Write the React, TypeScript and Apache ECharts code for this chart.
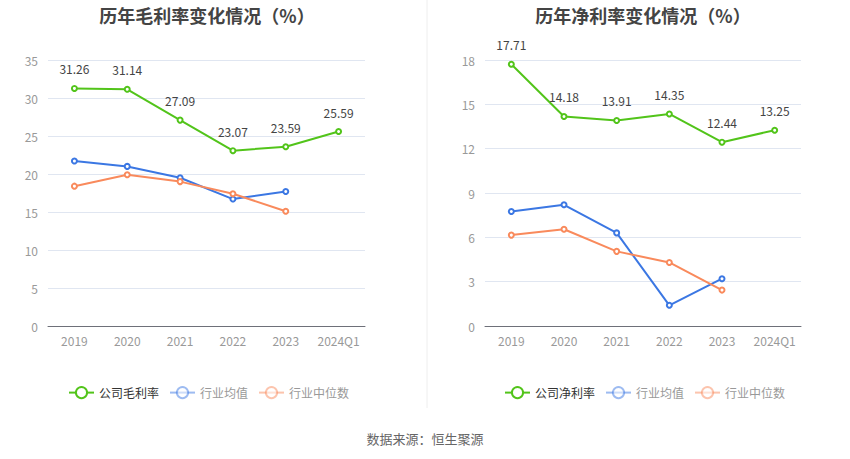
import React, { useEffect, useRef } from "react";
import * as echarts from "echarts";

const categories = ["2019", "2020", "2021", "2022", "2023", "2024Q1"];
const grossCompany = [31.26, 31.14, 27.09, 23.07, 23.59, 25.59];
const grossIndustryMean = [21.7, 21.0, 19.5, 16.7, 17.7];
const grossIndustryMedian = [18.4, 19.9, 19.0, 17.4, 15.1];
const netCompany = [17.71, 14.18, 13.91, 14.35, 12.44, 13.25];
const netIndustryMean = [7.75, 8.2, 6.3, 1.4, 3.2];
const netIndustryMedian = [6.15, 6.55, 5.05, 4.3, 2.43];

const GREEN = "#52c41a";
const BLUE = "#3b77e3";
const ORANGE = "#f98a5c";

export default function App() {
  const ref = useRef<HTMLDivElement>(null);
  useEffect(() => {
    document.body.style.margin = "0";
    const chart = echarts.init(ref.current!, undefined, { renderer: "svg" });
    const font = "'Noto Sans CJK SC', 'Noto Sans', sans-serif";
    const xAxisBase = (gi: number) => ({
      type: "category",
      gridIndex: gi,
      data: categories,
      boundaryGap: true,
      axisLine: { lineStyle: { color: "#6e7079" } },
      axisTick: { alignWithLabel: true, interval: 0, lineStyle: { color: "#6e7079" } },
      axisLabel: { color: "#999", fontSize: 12, margin: 8, interval: 0 },
    });
    const yAxisBase = (gi: number, max: number, interval: number) => ({
      type: "value",
      gridIndex: gi,
      min: 0,
      max,
      interval,
      axisLine: { show: false },
      axisTick: { show: false },
      axisLabel: { color: "#999", fontSize: 12, margin: 10 },
      splitLine: { lineStyle: { color: "#e0e6f1" } },
    });
    const lineSeries = (
      name: string,
      data: number[],
      color: string,
      idx: number,
      label: boolean
    ) => ({
      name,
      type: "line",
      xAxisIndex: idx,
      yAxisIndex: idx,
      data,
      symbol: "emptyCircle",
      symbolSize: 5,
      lineStyle: { width: 2, color },
      itemStyle: { color, borderWidth: 2 },
      label: label
        ? { show: true, position: "top", color: "#444", fontSize: 12, distance: 10 }
        : { show: false },
      z: label ? 3 : 2,
    });
    const legendItems = (first: string) => [
      { name: first, textStyle: { color: "#333" } },
      {
        name: "行业均值",
        textStyle: { color: "#999" },
        itemStyle: { opacity: 0.5 },
        lineStyle: { opacity: 0.5 },
      },
      {
        name: "行业中位数",
        textStyle: { color: "#999" },
        itemStyle: { opacity: 0.5 },
        lineStyle: { opacity: 0.5 },
      },
    ];
    chart.setOption({
      animation: false,
      textStyle: { fontFamily: font },
      title: [
        {
          text: "历年毛利率变化情况（%）",
          left: 202,
          textAlign: "center",
          top: 1,
          textStyle: { fontSize: 18, fontWeight: "bold", color: "#444", fontFamily: font },
        },
        {
          text: "历年净利率变化情况（%）",
          left: 638,
          textAlign: "center",
          top: 1,
          textStyle: { fontSize: 18, fontWeight: "bold", color: "#444", fontFamily: font },
        },
      ],
      legend: [
        {
          data: legendItems("公司毛利率"),
          left: 63,
          top: 381,
          itemWidth: 25,
          itemHeight: 14,
          itemGap: 10,
          selectedMode: false,
          textStyle: { fontSize: 12, fontFamily: font },
        },
        {
          data: legendItems("公司净利率"),
          left: 499,
          top: 381,
          itemWidth: 25,
          itemHeight: 14,
          itemGap: 10,
          selectedMode: false,
          textStyle: { fontSize: 12, fontFamily: font },
        },
      ],
      grid: [
        { left: 48, right: 485, top: 60, bottom: 133 },
        { left: 485, right: 49, top: 60, bottom: 133 },
      ],
      xAxis: [xAxisBase(0), xAxisBase(1)],
      yAxis: [yAxisBase(0, 35, 5), yAxisBase(1, 18, 3)],
      series: [
        lineSeries("公司毛利率", grossCompany, GREEN, 0, true),
        lineSeries("行业均值", grossIndustryMean, BLUE, 0, false),
        lineSeries("行业中位数", grossIndustryMedian, ORANGE, 0, false),
        lineSeries("公司净利率", netCompany, GREEN, 1, true),
        lineSeries("行业均值", netIndustryMean, BLUE, 1, false),
        lineSeries("行业中位数", netIndustryMedian, ORANGE, 1, false),
      ],
      graphic: [
        {
          type: "line",
          shape: { x1: 427, y1: 0, x2: 427, y2: 408 },
          style: { stroke: "#eeeeee", lineWidth: 1 },
        },
        {
          type: "text",
          x: 425,
          y: 438,
          style: {
            text: "数据来源：恒生聚源",
            fill: "#666",
            fontSize: 13,
            fontFamily: font,
            textAlign: "center",
            textVerticalAlign: "middle",
          },
        },
      ],
    });
    return () => chart.dispose();
  }, []);
  return <div ref={ref} style={{ width: 850, height: 459 }} />;
}
